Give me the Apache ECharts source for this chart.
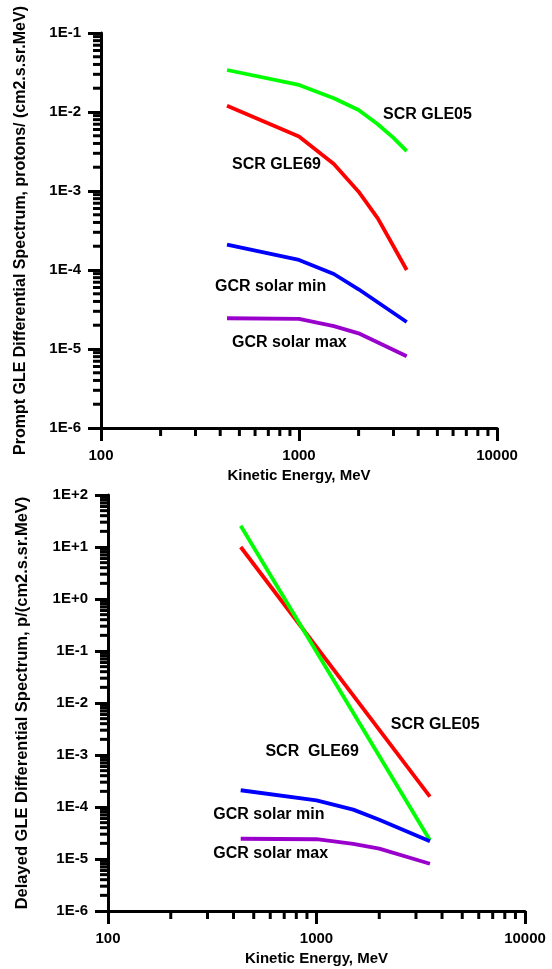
<!DOCTYPE html>
<html>
<head>
<meta charset="utf-8">
<script src="https://cdn.jsdelivr.net/npm/echarts@6/dist/echarts.min.js"></script>
<style>
  html, body { margin: 0; padding: 0; background: #fff; }
  #chart { width: 552px; height: 969px; }
</style>
</head>
<body>
<div id="chart"></div>
<script>
// kinetic energy, MeV
const energyGcr = [433, 1000, 1500, 2000, 3500]
const gcrSolarMin = [2.1e-4, 1.34e-4, 8.9e-5, 5.7e-5, 2.2e-5]
const gcrSolarMax = [2.45e-5, 2.4e-5, 1.95e-5, 1.58e-5, 8.1e-6]

// (a) prompt spectrum
const energyPrompt = [433, 1000, 1500, 2000, 2500, 3000, 3500]
const promptGle05 = [0.034, 0.022, 0.0149, 0.0106, 0.007, 0.0047, 0.0032]
const promptGle69 = [0.012, 0.0049, 0.0022, 0.00098, 0.00045, 0.0002, 0.0001]

// (b) delayed spectrum (straight power laws)
const energyDelayed = [433, 3500]
const delayedGle05 = [10, 1.58e-4]
const delayedGle69 = [25.7, 2.3e-5]

// text annotations [energy, flux, text]
const notesPrompt = [
  [2655, 9.2e-3, 'SCR GLE05'],
  [459, 2.13e-3, 'SCR GLE69'],
  [377, 6.1e-5, 'GCR solar min'],
  [459, 1.19e-5, 'GCR solar max']
]
const notesDelayed = [
  [2270, 3.8e-3, 'SCR GLE05'],
  [569, 1.14e-3, 'SCR  GLE69'],
  [320, 7.3e-5, 'GCR solar min'],
  [320, 1.25e-5, 'GCR solar max']
]

const GREEN = '#00ff00'
const RED = '#ff0000'
const BLUE = '#0000ff'
const PURPLE = '#9900cc'
const FONT = 'Liberation Sans, Arial, sans-serif'

const chart = echarts.init(document.getElementById('chart'), null, { renderer: 'canvas' })

const pairs = (xs, ys) => xs.map((x, i) => [x, ys[i]])

const line = (name, color, idx, xs, ys) => ({
  name,
  type: 'line',
  xAxisIndex: idx,
  yAxisIndex: idx,
  data: pairs(xs, ys),
  symbol: 'none',
  lineStyle: { color, width: 3.8 },
  itemStyle: { color },
  z: 3
})

// 2..9 x 10^e minor ticks for the log axes
const minors = (e0, e1) => {
  const out = []
  for (let e = e0; e < e1; e++) {
    for (let k = 2; k <= 9; k++) out.push(k * Math.pow(10, e))
  }
  return out
}

const tickSeries = (idx, dir, values, len) => ({
  type: 'custom',
  xAxisIndex: idx,
  yAxisIndex: idx,
  silent: true,
  clip: false,
  z: 5,
  data: values,
  renderItem: (params, api) => {
    const p = api.coord([api.value(0), api.value(1)])
    const shape = dir === 'x'
      ? { x1: p[0], y1: p[1], x2: p[0], y2: p[1] + len }
      : { x1: p[0] - len, y1: p[1], x2: p[0], y2: p[1] }
    return { type: 'line', shape, style: { stroke: '#000', lineWidth: 3 } }
  }
})

const expLabel = (v) => {
  const e = Math.round(Math.log10(v))
  return '1E' + (e >= 0 ? '+' + e : e)
}

const makeX = (idx) => ({
  type: 'log',
  gridIndex: idx,
  min: 100,
  max: 10000,
  axisLine: { show: true, onZero: false, lineStyle: { color: '#000', width: 3 } },
  axisTick: { show: true, length: 13, lineStyle: { color: '#000', width: 3 } },
  splitLine: { show: false },
  axisLabel: {
    color: '#000', fontSize: 15, fontWeight: 'bold', fontFamily: FONT, margin: 20,
    formatter: (v) => String(Math.round(v))
  },
  name: 'Kinetic Energy, MeV',
  nameLocation: 'middle',
  nameGap: 40,
  nameTextStyle: { color: '#000', fontSize: 15, fontWeight: 'bold', fontFamily: FONT }
})

const makeY = (idx, min, max, name, gap, size) => ({
  type: 'log',
  gridIndex: idx,
  min,
  max,
  axisLine: { show: true, onZero: false, lineStyle: { color: '#000', width: 3 } },
  axisTick: { show: true, length: 13, lineStyle: { color: '#000', width: 3 } },
  splitLine: { show: false },
  axisLabel: {
    color: '#000', fontSize: 15, fontWeight: 'bold', fontFamily: FONT, margin: 20,
    formatter: expLabel
  },
  name,
  nameLocation: 'middle',
  nameGap: gap,
  nameTextStyle: { color: '#000', fontSize: size, fontWeight: 'bold', fontFamily: FONT }
})

const option = {
  animation: false,
  backgroundColor: '#fff',
  grid: [
    { left: 101, top: 33, width: 396, height: 395 },
    { left: 108, top: 495, width: 417, height: 416 }
  ],
  xAxis: [makeX(0), makeX(1)],
  yAxis: [
    makeY(0, 1e-6, 1e-1, 'Prompt GLE Differential Spectrum, protons/ (cm2.s.sr.MeV)', 72, 16),
    makeY(1, 1e-6, 1e2, 'Delayed GLE Differential Spectrum, p/(cm2.s.sr.MeV)', 77, 16.5)
  ],
  series: [
    line('SCR GLE05', GREEN, 0, energyPrompt, promptGle05),
    line('SCR GLE69', RED, 0, energyPrompt, promptGle69),
    line('GCR solar min', BLUE, 0, energyGcr, gcrSolarMin),
    line('GCR solar max', PURPLE, 0, energyGcr, gcrSolarMax),
    line('SCR GLE05', RED, 1, energyDelayed, delayedGle05),
    line('SCR GLE69', GREEN, 1, energyDelayed, delayedGle69),
    line('GCR solar min', BLUE, 1, energyGcr, gcrSolarMin),
    line('GCR solar max', PURPLE, 1, energyGcr, gcrSolarMax),
    tickSeries(0, 'x', minors(2, 4).map(v => [v, 1e-6]), 8),
    tickSeries(0, 'y', minors(-6, -1).map(v => [100, v]), 8),
    tickSeries(1, 'x', minors(2, 4).map(v => [v, 1e-6]), 8),
    tickSeries(1, 'y', minors(-6, 2).map(v => [100, v]), 8)
  ]
}

chart.setOption(option)

// place the curve labels through the axes
const noteText = (notes, idx) => notes.map(([x, y, text]) => {
  const p = chart.convertToPixel({ xAxisIndex: idx, yAxisIndex: idx }, [x, y])
  return {
    type: 'text',
    x: p[0],
    y: p[1],
    style: {
      text, fill: '#000', fontSize: 16, fontWeight: 'bold', fontFamily: FONT,
      align: 'left', verticalAlign: 'middle'
    }
  }
})

chart.setOption({ graphic: [...noteText(notesPrompt, 0), ...noteText(notesDelayed, 1)] })
</script>
</body>
</html>
